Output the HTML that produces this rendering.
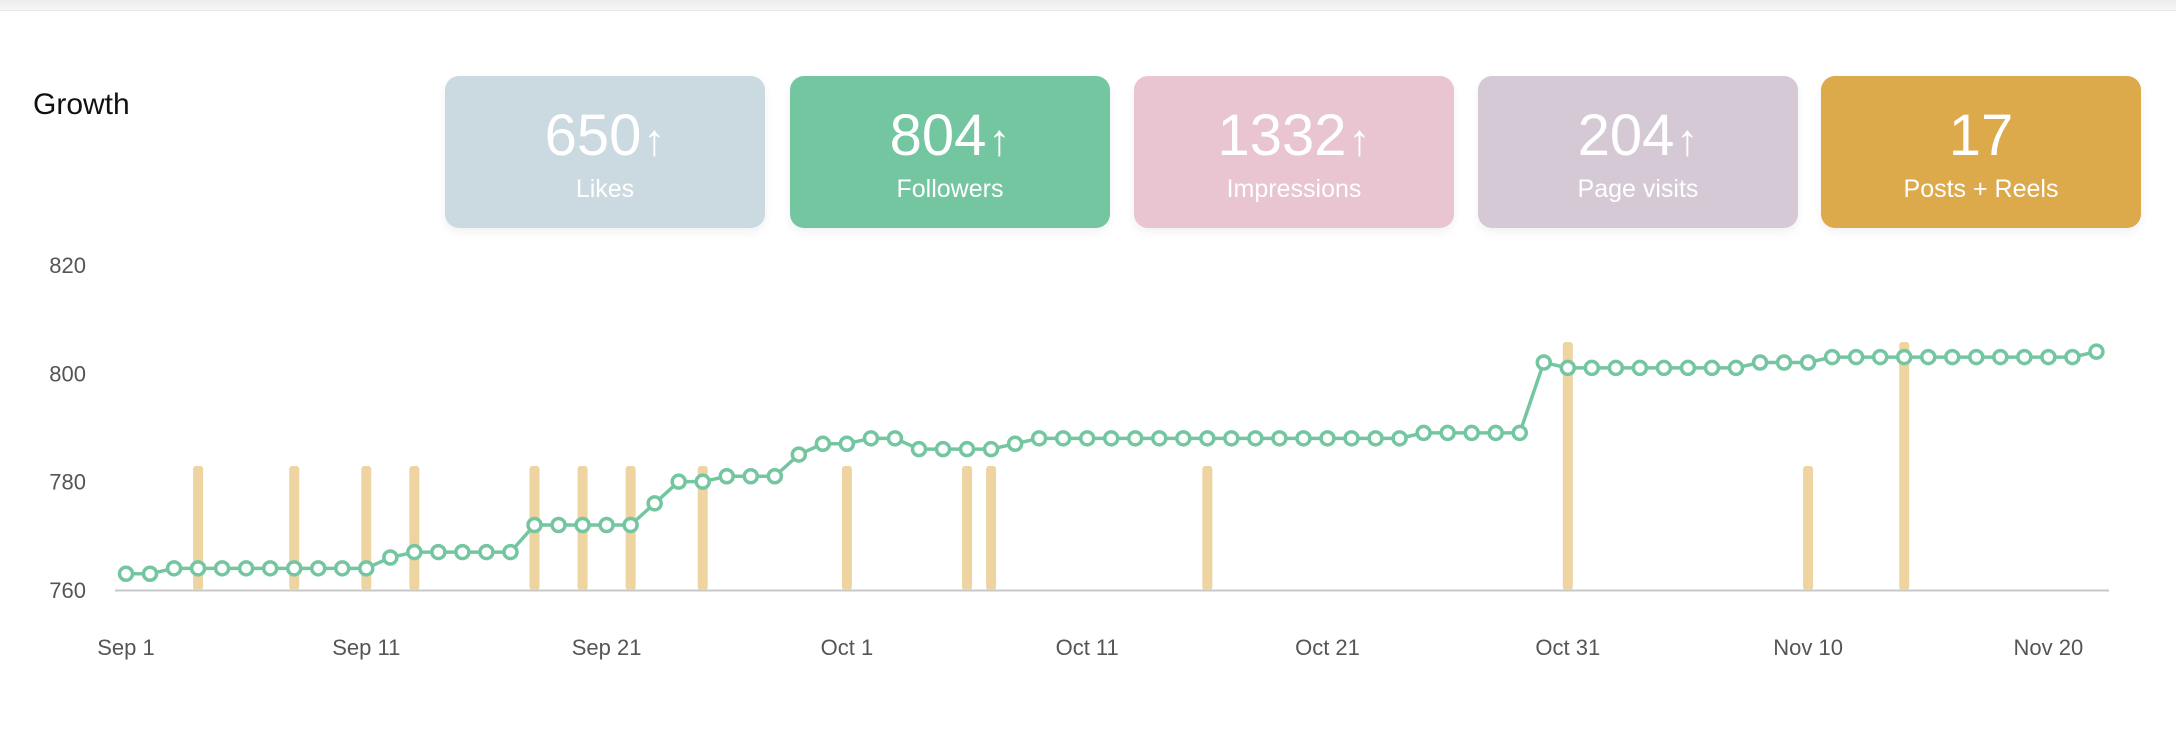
<!DOCTYPE html>
<html><head><meta charset="utf-8">
<style>
body{margin:0;width:2176px;height:729px;background:#fff;font-family:"Liberation Sans",sans-serif;overflow:hidden;position:relative}
.topbar{position:absolute;left:0;top:0;width:2176px;height:10px;background:linear-gradient(#ececec,#f6f6f6);border-bottom:1px solid #e8e8e8}
.title{position:absolute;left:33px;top:88px;font-size:30px;color:#111}
.card{position:absolute;top:76px;width:320px;height:152px;border-radius:14px;color:#fff;text-align:center;box-shadow:0 4px 10px rgba(0,0,0,0.06)}
.card .num{position:absolute;left:0;right:0;top:28px;font-size:58px;line-height:64px}
.card .num span{font-size:44px;margin-left:2px}
.card .lbl{position:absolute;left:0;right:0;top:98px;font-size:25px;line-height:30px}
svg{position:absolute;left:0;top:0}
</style></head><body>
<div class="topbar"></div>
<div class="title">Growth</div>
<div class="card" style="left:445px;background:#cbdae0"><div class="num">650<span>↑</span></div><div class="lbl">Likes</div></div>
<div class="card" style="left:790px;background:#74c6a1"><div class="num">804<span>↑</span></div><div class="lbl">Followers</div></div>
<div class="card" style="left:1134px;background:#e8c5d1"><div class="num">1332<span>↑</span></div><div class="lbl">Impressions</div></div>
<div class="card" style="left:1478px;background:#d5c9d6"><div class="num">204<span>↑</span></div><div class="lbl">Page visits</div></div>
<div class="card" style="left:1821px;background:#dca94b"><div class="num">17</div><div class="lbl">Posts + Reels</div></div>
<svg id="chart" width="2176" height="729"></svg>
<script>
const followers=[763,763,764,764,764,764,764,764,764,764,764,766,767,767,767,767,767,772,772,772,772,772,776,780,780,781,781,781,785,787,787,788,788,786,786,786,786,787,788,788,788,788,788,788,788,788,788,788,788,788,788,788,788,788,789,789,789,789,789,802,801,801,801,801,801,801,801,801,802,802,802,803,803,803,803,803,803,803,803,803,803,803,804];
const postDays=[3,7,10,12,17,19,21,24,30,35,36,45,60,70,74];
const postCounts=[1,1,1,1,1,1,1,1,1,1,1,1,2,1,2];
const yTicks=[760,780,800,820];
const xTickIdx=[0,10,20,30,40,50,60,70,80];
const xTickLabels=["Sep 1","Sep 11","Sep 21","Oct 1","Oct 11","Oct 21","Oct 31","Nov 10","Nov 20"];
const NS="http://www.w3.org/2000/svg",svg=document.getElementById('chart');
const x=i=>126+i*24.03;
const y=v=>590-(v-760)*(325/60);
const yb=c=>590-c*124;
function mk(t,a){const e=document.createElementNS(NS,t);for(const k in a)e.setAttribute(k,a[k]);svg.appendChild(e);return e;}
yTicks.forEach(v=>{const t=mk('text',{x:86,y:y(v)+8,'text-anchor':'end','font-size':22,fill:'#555','font-family':'Liberation Sans'});t.textContent=v;

});
xTickIdx.forEach((d,k)=>{const t=mk('text',{x:x(d),y:655,'text-anchor':'middle','font-size':22,fill:'#555','font-family':'Liberation Sans'});t.textContent=xTickLabels[k];

});
const ax=mk('line',{x1:115,x2:2109,y1:590.5,y2:590.5,stroke:'#c8c8c8','stroke-width':2});


postDays.forEach((d,k)=>{const top=yb(postCounts[k]);const r=mk('rect',{x:x(d)-5,y:top,width:10,height:590-top,rx:3,fill:'#edd4a0'});

});
const p=mk('polyline',{points:followers.map((v,i)=>x(i)+','+y(v)).join(' '),fill:'none',stroke:'#74c6a1','stroke-width':3.5});


followers.forEach((v,i)=>{const c=mk('circle',{cx:x(i),cy:y(v),r:6.5,fill:'#fff',stroke:'#74c6a1','stroke-width':3.5});

});
</script>
</body></html>
